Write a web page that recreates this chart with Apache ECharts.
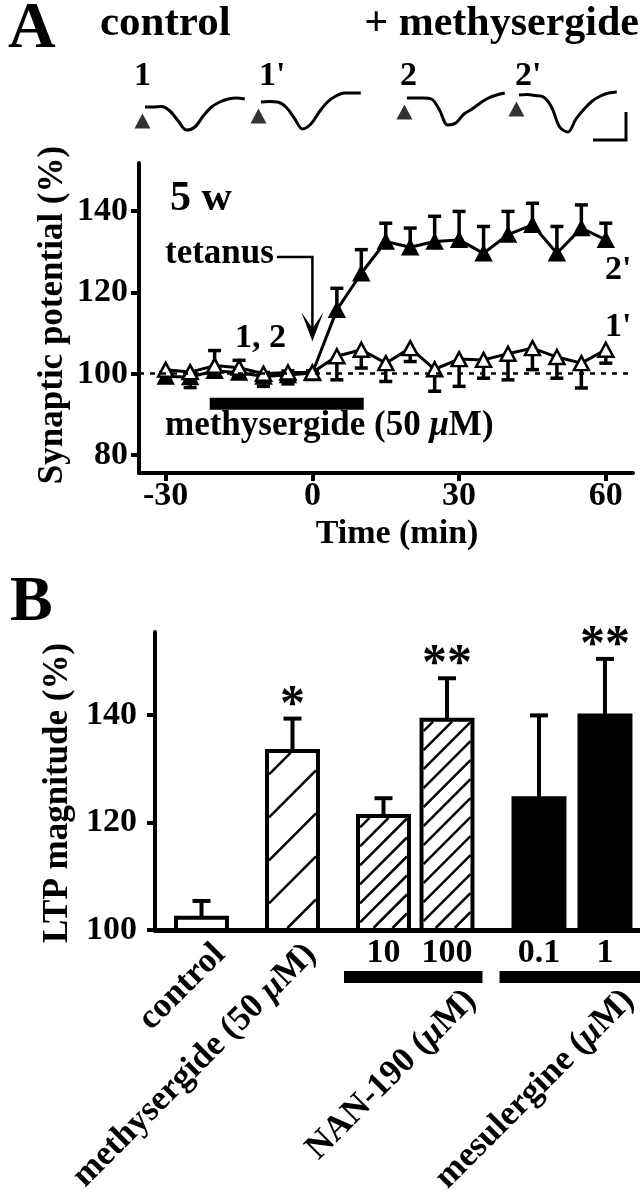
<!DOCTYPE html>
<html><head><meta charset="utf-8">
<script src="https://cdn.jsdelivr.net/npm/echarts@6/dist/echarts.min.js"></script>
<style>html,body{margin:0;padding:0;background:#fff}#c{width:640px;height:1199px}</style>
</head><body><div id="c"></div>
<script>
const FONT = '"Liberation Serif","Times New Roman",serif';

// ---------- Panel A data ----------
const timeMin = [-30,-25,-20,-15,-10,-5,0,5,10,15,20,25,30,35,40,45,50,55,60];
const controlMean = [101,100.4,102,101.5,100,100.3,100.3,104.3,105.9,102.6,106.3,101.1,103.6,103.4,104.9,106.3,104.1,102.6,105.9];
const controlSem  = [1.5,3.8,1,1,3.1,2.8,1,5.8,4.5,4.5,3.3,5.4,6.7,4.5,6.4,5.3,5.2,6.1,3.3];
const methyMean   = [99.3,99.2,100.7,100.3,99.3,99.7,100.2,115.7,124.7,132.5,131.1,132.5,132.9,129.6,134.2,136.6,129.6,135.8,132.9];
const methySem    = [1,1,5,3,1,1,0.5,5.3,5.8,4.5,4.7,6.2,7,6.6,5.7,5.3,6.6,5.7,4.1];
const yTicksA = [80,100,120,140];
const xTicksA = [-30,0,30,60];
const drugPeriod = [-21, 10.5];
const drugLevel = 92.6;
const tetanusTime = 0;

// ---------- sample traces (arbitrary units, uniform sampling) ----------
const traceNames = ['1', "1'", '2', "2'"];
const trace1  = [0, 0, 0.5, -4, -14, -23, -20, -9, 0, 5, 8, 9, 8];
const trace1p = [0, 0.5, 0, -5, -16, -27, -22, -10, 0, 6, 9, 9, 9];
const trace2  = [0, 0, 0, -1, -12, -27, -25, -16, -11, -5, 0, 3, 5];
const trace2p = [0, 0.5, -0.5, -2, -12, -32, -37, -24, -14, -6, -1, 2, 3];
const stimulus = [-0.3, -14];

// ---------- Panel B data ----------
const categoriesB = ['control','methysergide (50 μM)','NAN-190 10','NAN-190 100','mesulergine 0.1','mesulergine 1'];
const ltpMean = [102.3,133.3,121.2,139.1,124.5,139.9];
const ltpSem  = [3.1,6.0,3.3,7.7,15.4,10.5];
const significance = ['','*','','**','','**'];
const doseLabels = ['','','10','100','0.1','1'];
const yTicksB = [100,120,140];
const groupNames = ['NAN-190 ({i|μ}M)','mesulergine ({i|μ}M)'];

// ---------- layout / style (not data) ----------
const barPosB = [0,1,2,2.698,3.709,4.434];
const barFillB = ['open','hatchWide','hatch','hatch','solid','solid'];
const barLabelB = ['control','methysergide (50 {i|μ}M)','','','',''];
const groupMembersB = [[2,3],[4,5]];
const traceGrids = [
  {left:140.8, top:95, width:104},
  {left:256.8, top:90, width:104},
  {left:402.8, top:86, width:102},
  {left:514.8, top:83, width:102}
];

const chart = echarts.init(document.getElementById('c'), null, {renderer:'canvas'});
const K = '#000';
const lbl = (size) => ({fontFamily:FONT, fontWeight:'bold', fontSize:size, color:K});

function hatch(x0,y0,x1,y1,step,lw){
  const out=[];
  for(let c=x0+y0+step/2; c<x1+y1; c+=step){
    const xs=Math.max(x0,c-y1), xe=Math.min(x1,c-y0);
    if(xe>xs) out.push({type:'line',shape:{x1:xs,y1:c-xs,x2:xe,y2:c-xe},style:{stroke:K,lineWidth:lw}});
  }
  return out;
}
function textEl(text,x,y,size,o={}){
  return {type:'text', x, y, rotation:o.rot||0, z:o.z||10,
    style:{text, fill:K, fontFamily:FONT, fontWeight:'bold', fontSize:size,
      align:o.align||'left', verticalAlign:o.va||'middle',
      rich:{i:{fontStyle:'italic', fontWeight:'bold', fontFamily:FONT, fontSize:size, fill:K}}}};
}

const traces = [trace1, trace1p, trace2, trace2p];

const grids = [
  {left:139, top:163, width:494, height:310},
  {left:155, top:632, width:485, height:298}
].concat(traceGrids.map(g=>({left:g.left, top:g.top, width:g.width, height:57})));

const xAxes = [
  {type:'value', gridIndex:0, min:-35.46, max:65.56,
   axisLine:{onZero:false, lineStyle:{color:K,width:4}},
   axisTick:{show:true, length:8, customValues:xTicksA, lineStyle:{color:K,width:4}},
   axisLabel:Object.assign(lbl(34),{customValues:xTicksA, margin:6}),
   splitLine:{show:false}},
  {type:'value', gridIndex:1, min:-0.511, max:4.819,
   axisLine:{onZero:false, lineStyle:{color:K,width:5}},
   axisTick:{show:false}, axisLabel:{show:false}, splitLine:{show:false}}
].concat(traceGrids.map((g,i)=>({type:'value', gridIndex:i+2, min:-0.5, max:12, show:false})));

const yAxes = [
  {type:'value', gridIndex:0, min:75.6, max:151.8,
   axisLine:{show:true, onZero:false, lineStyle:{color:K,width:4}},
   axisTick:{show:true, length:8, customValues:yTicksA, lineStyle:{color:K,width:4}},
   axisLabel:Object.assign(lbl(34),{customValues:yTicksA, margin:11}),
   splitLine:{show:false}},
  {type:'value', gridIndex:1, min:100, max:155.4,
   axisLine:{show:true, onZero:false, lineStyle:{color:K,width:4}},
   axisTick:{show:true, length:8, customValues:yTicksB, lineStyle:{color:K,width:4}},
   axisLabel:Object.assign(lbl(34),{customValues:yTicksB, margin:18}),
   splitLine:{show:false}}
].concat(traceGrids.map((g,i)=>({type:'value', gridIndex:i+2, min:-45, max:12, show:false})));

const errData = [];
timeMin.forEach((t,i)=>{ errData.push([t, methyMean[i], methySem[i], 1]); errData.push([t, controlMean[i], controlSem[i], -1]); });

const series = [
  {type:'custom', xAxisIndex:0, yAxisIndex:0, z:2, data:errData, encode:{x:0,y:1},
   renderItem(p,api){
     const t=api.value(0), m=api.value(1), s=api.value(2), d=api.value(3);
     const a=api.coord([t,m]), b=api.coord([t,m+d*s]), hw=6.5;
     return {type:'group', children:[
       {type:'line',shape:{x1:a[0],y1:a[1],x2:b[0],y2:b[1]},style:{stroke:K,lineWidth:3.5}},
       {type:'line',shape:{x1:b[0]-hw,y1:b[1],x2:b[0]+hw,y2:b[1]},style:{stroke:K,lineWidth:3.5}}]};
   }},
  {type:'line', name:'methysergide', xAxisIndex:0, yAxisIndex:0, z:3,
   data:timeMin.map((t,i)=>[t,methyMean[i]]),
   symbol:'triangle', symbolSize:[16,15], showAllSymbol:true,
   itemStyle:{color:K, borderColor:K, borderWidth:1.5}, lineStyle:{color:K,width:3}},
  {type:'line', name:'control', xAxisIndex:0, yAxisIndex:0, z:4,
   data:timeMin.map((t,i)=>[t,controlMean[i]]),
   symbol:'triangle', symbolSize:[15,14], showAllSymbol:true,
   itemStyle:{color:'#fff', borderColor:K, borderWidth:2.5}, lineStyle:{color:K,width:3}},
  {type:'line', name:'drug', xAxisIndex:0, yAxisIndex:0, z:1,
   data:[[drugPeriod[0],drugLevel],[drugPeriod[1],drugLevel]], symbol:'none',
   lineStyle:{color:K,width:12,cap:'butt'},
   markLine:{silent:true, symbol:['none','none'], label:{show:false},
     lineStyle:{color:K,width:2.5,type:[5,6]}, data:[{yAxis:100}]}},
  {type:'custom', name:'LTP', xAxisIndex:1, yAxisIndex:1, z:3,
   data:barPosB.map((x,i)=>[x, ltpMean[i], ltpSem[i]]), encode:{x:0,y:1},
   renderItem(p,api){
     const i=p.dataIndex, x=api.value(0), v=api.value(1), e=api.value(2);
     const top=api.coord([x,v]), base=api.coord([x,100]), cap=api.coord([x,v+e]);
     const w=api.size([0.56,0])[0], cx=top[0];
     const x0=cx-w/2, x1=cx+w/2, y0=top[1], y1=base[1];
     const ch=[];
     ch.push({type:'line',shape:{x1:cx,y1:y0,x2:cx,y2:cap[1]},style:{stroke:K,lineWidth:4}});
     ch.push({type:'line',shape:{x1:cx-9,y1:cap[1],x2:cx+9,y2:cap[1]},style:{stroke:K,lineWidth:4}});
     const f=barFillB[i];
     ch.push({type:'rect',shape:{x:x0,y:y0,width:w,height:y1-y0},
       style:{fill:f==='solid'?K:'#fff', stroke:K, lineWidth:4}});
     if(f==='hatch') ch.push(...hatch(x0+2,y0+2,x1-2,y1-2,19,2.5));
     if(f==='hatchWide') ch.push(...hatch(x0+2,y0+2,x1-2,y1-2,43,2.5));
     if(significance[i]) ch.push(textEl(significance[i],cx,cap[1]-13,50,{align:'center'}));
     if(doseLabels[i]) ch.push(textEl(doseLabels[i],cx,y1+23.5,34,{align:'center'}));
     if(barLabelB[i]) ch.push(textEl(barLabelB[i],cx+6,y1+7,35,{align:'right',va:'top',rot:Math.PI/4}));
     return {type:'group', children:ch};
   }},
  {type:'custom', name:'groups', xAxisIndex:1, yAxisIndex:1, z:3,
   data:groupMembersB.map(g=>[barPosB[g[0]], barPosB[g[1]], 100]), encode:{x:[0,1],y:2},
   renderItem(p,api){
     const i=p.dataIndex;
     const a=api.coord([api.value(0),100]), b=api.coord([api.value(1),100]);
     const hw=api.size([0.56,0])[0]/2;
     const xl=a[0]-hw-14, xr=Math.min(b[0]+hw+10, 640);
     return {type:'group', children:[
       {type:'rect',shape:{x:xl,y:a[1]+41,width:xr-xl,height:12},style:{fill:K}},
       textEl(groupNames[i], b[0]+hw-14, a[1]+53, 35, {align:'right',va:'top',rot:Math.PI/4})
     ]};
   }}
];

traces.forEach((tr,k)=>{
  series.push({type:'line', xAxisIndex:k+2, yAxisIndex:k+2, data:tr.map((v,j)=>[j,v]),
    symbol:'none', smooth:0.35, lineStyle:{color:K,width:3}});
  series.push({type:'scatter', xAxisIndex:k+2, yAxisIndex:k+2, data:[stimulus], clip:false,
    symbol:'triangle', symbolSize:[16,15], itemStyle:{color:K}});
});

const graphic = [
  textEl('A', 8, 30, 66),
  textEl('control', 100, 24, 43),
  textEl('+ methysergide', 639, 24, 42, {align:'right'}),
  textEl(traceNames[0], 134, 76, 34),
  textEl(traceNames[1], 259, 76, 34),
  textEl(traceNames[2], 400, 76, 34),
  textEl(traceNames[3], 515, 76, 34),
  {type:'polyline', shape:{points:[[593,140],[626,140],[626,112]]}, style:{stroke:K,lineWidth:3,fill:null}},
  textEl('5 w', 170, 199, 42),
  textEl('tetanus', 165, 254, 35),
  textEl('1, 2', 235, 338, 34),
  textEl('methysergide (50 {i|μ}M)', 165, 426, 35),
  textEl("2'", 605, 270, 34),
  textEl("1'", 605, 327, 34),
  textEl('Time (min)', 397, 534, 34, {align:'center'}),
  textEl('Synaptic potential (%)', 53, 315, 35, {align:'center', rot:Math.PI/2}),
  textEl('B', 10, 603, 64),
  textEl('LTP magnitude (%)', 58, 793, 35, {align:'center', rot:Math.PI/2})
];

chart.setOption({animation:false, backgroundColor:'#fff', grid:grids, xAxis:xAxes, yAxis:yAxes, series, graphic});

// tetanus arrow positioned through the axis scales
const pTop = chart.convertToPixel({gridIndex:0}, [tetanusTime, 128.7]);
const pTip = chart.convertToPixel({gridIndex:0}, [tetanusTime, 108]);
graphic.push(
  {type:'polyline', shape:{points:[[277,pTop[1]],[pTop[0],pTop[1]],[pTop[0],pTip[1]-12]]}, style:{stroke:K,lineWidth:2.5,fill:null}},
  {type:'polygon', shape:{points:[[pTip[0],pTip[1]],[pTip[0]-11,pTip[1]-29],[pTip[0],pTip[1]-13],[pTip[0]+11,pTip[1]-29]]}, style:{fill:K}}
);
chart.setOption({graphic});
</script></body></html>
